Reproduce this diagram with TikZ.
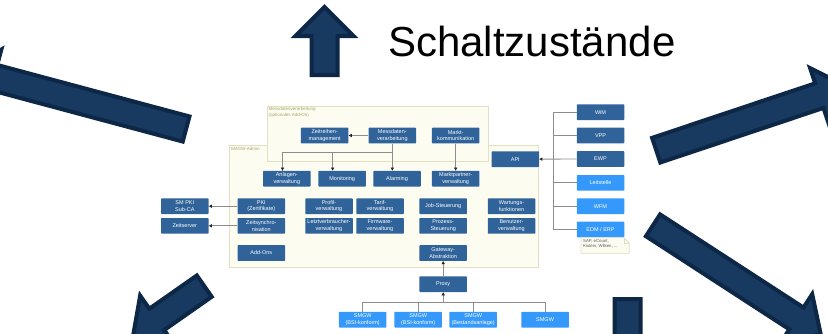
\documentclass[tikz,border=0pt]{standalone}
\usepackage{fontspec}
\setmainfont{Liberation Sans}
\usetikzlibrary{arrows.meta}

\definecolor{arrowfill}{RGB}{24,57,96}
\definecolor{arrowline}{RGB}{13,39,71}
\definecolor{boxdark}{RGB}{47,99,153}
\definecolor{boxlight}{RGB}{52,153,250}
\definecolor{groupfill}{RGB}{252,252,241}
\definecolor{groupline}{RGB}{226,224,196}
\definecolor{grouptext}{RGB}{170,165,105}

% block arrow: start x, start y, angle, shaft length
\newcommand{\bigarrow}[4]{%
  \draw[bigarrow,shift={(#1,#2)},rotate=#3] (0,-13) -- (#4,-13) -- (#4,-29)
    -- ({#4+29},0) -- (#4,29) -- (#4,13) -- (0,13) -- cycle;}

\begin{document}
\begin{tikzpicture}[x=1pt,y=-1pt,
  box/.style={rectangle,rounded corners=0.6pt,minimum width=47.5pt,minimum height=15.6pt,
    inner sep=0pt,align=center,text=white,font=\fontsize{5.5}{6.6}\selectfont},
  dbox/.style={box,fill=boxdark},
  lbox/.style={box,fill=boxlight},
  group/.style={fill=groupfill,draw=groupline,line width=0.8pt},
  grouplabel/.style={anchor=north west,inner sep=1.2pt,align=left,text=grouptext,
    font=\fontsize{4.5}{5.6}\selectfont},
  link/.style={draw=black!45,line width=0.8pt},
  arr/.style={link,-{Triangle[length=3.2pt,width=3.2pt,color=black!85]}},
  bigarrow/.style={fill=arrowfill,draw=arrowline,line width=4pt,line join=miter}]

    \useasboundingbox (0,0) rectangle (828,333);
    \clip (0,0) rectangle (828,333);

    % The big arrows
    \bigarrow{324.5}{75}{90}{39}
    \bigarrow{627.5}{299}{-90}{39}
    \bigarrow{186.1}{129}{165}{199}
    \bigarrow{656.2}{150.2}{18.5}{172}
    \bigarrow{653}{225.3}{-33}{171}
    \bigarrow{204.3}{286.1}{215}{58}

    \node[anchor=base west,inner sep=0pt,font=\fontsize{42}{50}\selectfont] (title) at (388,56) {Schaltzustände};

    % The frames
    \draw[group] (229.5,145.5) rectangle (538.3,267);
    \node[grouplabel] (adminlabel) at (229.5,145.5) {SMGW-Admin};
    \draw[group] (267.3,106.3) rectangle (488.3,161);
    \node[grouplabel] (messlabel) at (267.3,106.3) {Messdatenverarbeitung\\(optionales Add-On)};

    % Place the nodes
    \node[dbox] (zeitreihen) at (324.7,135.5) {Zeitreihen-\\management};
    \node[dbox] (messdaten)  at (392.3,135.5) {Messdaten-\\verarbeitung};
    \node[dbox] (markt)      at (455.7,135.5) {Markt-\\kommunikation};

    \node[dbox] (anlagen)      at (286.8,178.7) {Anlagen-\\verwaltung};
    \node[dbox] (monitoring)   at (342.2,178.7) {Monitoring};
    \node[dbox] (alarming)     at (397,178.7)   {Alarming};
    \node[dbox] (marktpartner) at (455.7,178.7) {Marktpartner-\\verwaltung};
    \node[dbox] (api)          at (515.3,159.2) {API};

    \node[dbox] (smpki)   at (184.8,206.2) {SM PKI\\Sub-CA};
    \node[dbox] (pki)     at (261.3,206.2) {PKI\\(Zertifikate)};
    \node[dbox] (profil)  at (329,206.2)   {Profil-\\verwaltung};
    \node[dbox] (tarif)   at (380,206.2)   {Tarif-\\verwaltung};
    \node[dbox] (job)     at (443.2,206.2) {Job-Steuerung};
    \node[dbox] (wartung) at (511.5,206.2) {Wartungs-\\funktionen};

    \node[dbox] (zeitserver) at (184.8,225.8) {Zeitserver};
    \node[dbox] (zeitsync)   at (261.3,225.8) {Zeitsynchro-\\nisation};
    \node[dbox] (letzt)      at (329,225.8)   {Letztverbraucher-\\verwaltung};
    \node[dbox] (firmware)   at (380,225.8)   {Firmware-\\verwaltung};
    \node[dbox] (prozess)    at (443.2,225.8) {Prozess-\\Steuerung};
    \node[dbox] (benutzer)   at (511.5,225.8) {Benutzer-\\verwaltung};

    \node[dbox] (addons)  at (261.3,253) {Add-Ons};
    \node[dbox] (gateway) at (443.2,253) {Gateway-\\Abstraktion};
    \node[dbox] (proxy)   at (443.2,284.2) {Proxy};

    \node[lbox] (smgwa) at (362.7,319.7) {SMGW\\(BSI-konform)};
    \node[lbox] (smgwb) at (418.2,319.7) {SMGW\\(BSI-konform)};
    \node[lbox] (smgwc) at (473.2,319.7) {SMGW\\(Bestandsanlage)};
    \node[lbox] (smgwd) at (545.1,319.7) {SMGW};

    \node[dbox] (wim)       at (600.5,112.2) {WiM};
    \node[dbox] (vpp)       at (600.5,135.5) {VPP};
    \node[dbox] (ewp)       at (600.5,159)   {EWP};
    \node[lbox] (leitstelle) at (600.5,182.8) {Leitstelle};
    \node[lbox] (wfm)       at (600.5,206.2) {WFM};
    \node[lbox] (edm)       at (600.5,229.5) {EDM / ERP};

    % The note
    \draw[fill=groupfill,draw=groupline,line width=0.8pt] (581,237.7) -- (624,237.7) -- (629.3,243)
      -- (629.3,253.3) -- (581,253.3) -- cycle;
    \draw[draw=groupline,line width=0.8pt] (624,237.7) -- (624,243) -- (629.3,243);
    \node[anchor=north west,inner sep=0pt,align=left,text=black!65,font=\fontsize{4.3}{5.6}\selectfont]
      (note) at (583,239) {SAP, eCount,\\Kisters, Wilken, ...};

    % Draw the lines
    \draw[arr] (messdaten) -- (zeitreihen);
    \draw[link] (messdaten.south) -- ++(0,8.5) -| ([xshift=-4.3pt]anlagen.north);
    \draw[arr] ([xshift=-4.3pt]anlagen.north |- 0,151.5) -- ([xshift=-4.3pt]anlagen.north);
    \draw[arr] ([xshift=-9.6pt]monitoring.north |- 0,151.5) -- ([xshift=-9.6pt]monitoring.north);
    \draw[arr] (messdaten.south -| 392.3,0) -- (messdaten.south |- alarming.north);
    \draw[arr] (markt) -- (marktpartner);

    \draw[arr] (pki) -- (smpki);
    \draw[arr] (zeitsync) -- (zeitserver);

    \draw[link] (wim.west) -- ++(-23.5,0) |- (edm.west);
    \draw[link] (vpp.west) -- ++(-23.5,0);
    \draw[link] (leitstelle.west) -- ++(-23.5,0);
    \draw[link] (wfm.west) -- ++(-23.5,0);
    \draw[arr] (ewp) -- (api);

    \draw[arr] (proxy) -- (gateway);
    \draw[link] (smgwa.north) -- ++(0,-9.7) -| (smgwd.north);
    \draw[link] (smgwb.north) -- ++(0,-9.7);
    \draw[link] (smgwc.north) -- ++(0,-9.7);
    \draw[arr] (smgwa.north -| proxy.south) ++(0,-9.7) -- (proxy.south);

\end{tikzpicture}
\end{document}
